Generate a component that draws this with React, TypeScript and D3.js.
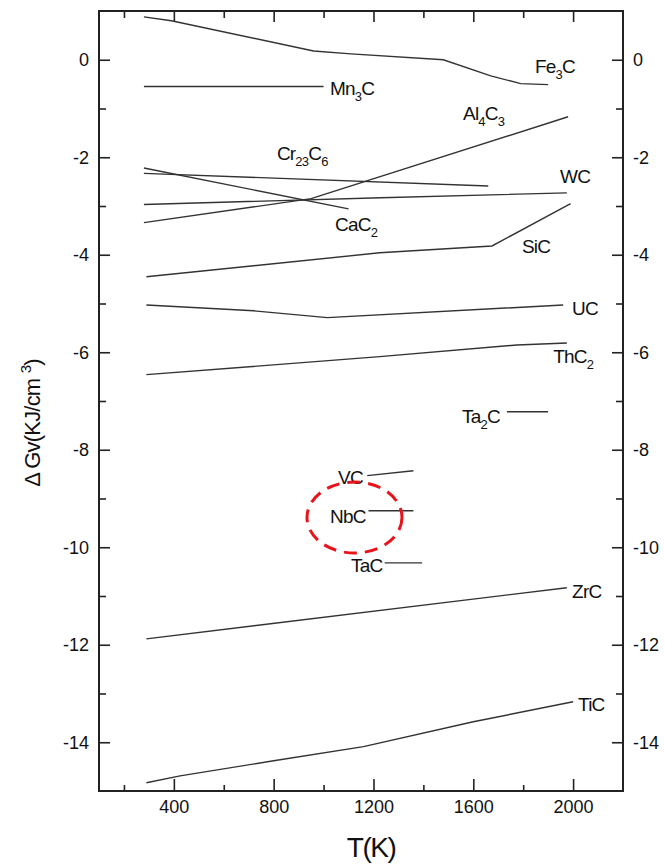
import React, { useEffect, useRef } from "react";
import * as d3 from "d3";

// temperatures (K) and dGv (kJ/cm3)
const fe3c: [number, number][] = [[280, 0.88], [390, 0.8], [960, 0.18], [1110, 0.12], [1480, 0.0], [1670, -0.33], [1790, -0.49], [1900, -0.51]];
const mn3c: [number, number][] = [[280, -0.55], [1000, -0.55]];
const al4c3: [number, number][] = [[280, -3.34], [950, -2.85], [1980, -1.17]];
const cr23c6: [number, number][] = [[280, -2.33], [1660, -2.59]];
const cac2: [number, number][] = [[280, -2.22], [1100, -3.06]];
const wc: [number, number][] = [[280, -2.97], [1230, -2.83], [1975, -2.73]];
const sic: [number, number][] = [[290, -4.45], [1225, -3.96], [1675, -3.82], [1990, -2.95]];
const uc: [number, number][] = [[290, -5.03], [720, -5.15], [1015, -5.29], [1960, -5.03]];
const thc2: [number, number][] = [[290, -6.46], [1225, -6.09], [1775, -5.85], [1975, -5.81]];
const ta2c: [number, number][] = [[1735, -7.22], [1900, -7.22]];
const vc: [number, number][] = [[1175, -8.53], [1360, -8.43]];
const nbc: [number, number][] = [[1180, -9.25], [1360, -9.25]];
const tac: [number, number][] = [[1245, -10.32], [1395, -10.32]];
const zrc: [number, number][] = [[290, -11.88], [1975, -10.83]];
const tic: [number, number][] = [[290, -14.83], [425, -14.69], [800, -14.38], [1160, -14.09], [1600, -13.58], [2000, -13.17]];

const series = [fe3c, mn3c, al4c3, cr23c6, cac2, wc, sic, uc, thc2, ta2c, vc, nbc, tac, zrc, tic];

// compound names, "_n" = subscript, anchored at (T, dGv) of the label's left baseline
const labelNames = ["Fe_3C", "Mn_3C", "Al_4C_3", "Cr_23C_6", "CaC_2", "WC", "SiC", "UC", "ThC_2", "Ta_2C", "VC", "NbC", "TaC", "ZrC", "TiC"];
const labelT = [1847, 1026, 1559, 813, 1046, 1948, 1795, 1996, 1920, 1555, 1058, 1026, 1110, 1996, 2020];
const labelV = [-0.27, -0.72, -1.23, -2.05, -3.51, -2.52, -3.96, -5.23, -6.22, -7.45, -8.7, -9.5, -10.5, -11.04, -13.35];

const xMajor = [400, 800, 1200, 1600, 2000];
const xMinor = [200, 600, 1000, 1400, 1800];
const yMajor = [0, -2, -4, -6, -8, -10, -12, -14];
const yMinor = [-1, -3, -5, -7, -9, -11, -13];

const W = 665, H = 865;
const margin = { top: 11, right: 42, bottom: 74, left: 99 };
const FONT = "'Liberation Sans', Arial, sans-serif";

function parseName(name: string) {
  const parts: { text: string; sub: boolean }[] = [];
  const re = /_(\d+)/g;
  let last = 0, m;
  while ((m = re.exec(name)) !== null) {
    if (m.index > last) parts.push({ text: name.slice(last, m.index), sub: false });
    parts.push({ text: m[1], sub: true });
    last = m.index + m[0].length;
  }
  if (last < name.length) parts.push({ text: name.slice(last), sub: false });
  return parts;
}

export default function App() {
  const ref = useRef<SVGSVGElement>(null);

  useEffect(() => {
    const svg = d3.select(ref.current);
    svg.selectAll("*").remove();

    const x = d3.scaleLinear().domain([100, 2200]).range([margin.left, W - margin.right]);
    const y = d3.scaleLinear().domain([-15, 1]).range([H - margin.bottom, margin.top]);
    const [x0, x1] = x.range();
    const [y0, y1] = y.range();

    const drawTicks = (axis: any, transform: string, size: number, labels: boolean) => {
      const g = svg.append("g").attr("transform", transform).call(axis.tickSize(-size).tickSizeOuter(0));
      g.select(".domain").remove();
      g.selectAll("line").attr("stroke", "#222").attr("stroke-width", 1.6);
      g.selectAll("text").attr("font-family", FONT).attr("font-size", 18).attr("fill", "#111");
      if (!labels) g.selectAll("text").remove();
      return g;
    };

    // bottom / top
    drawTicks(d3.axisBottom(x).tickValues(xMajor).tickPadding(9).tickFormat(d3.format("d")), `translate(0,${y0})`, 12, true);
    drawTicks(d3.axisBottom(x).tickValues(xMinor), `translate(0,${y0})`, 6, false);
    drawTicks(d3.axisTop(x).tickValues(xMajor), `translate(0,${y1})`, 11, false);
    drawTicks(d3.axisTop(x).tickValues(xMinor), `translate(0,${y1})`, 7, false);
    // left / right
    drawTicks(d3.axisLeft(y).tickValues(yMajor).tickPadding(10).tickFormat(d3.format("d")), `translate(${x0},0)`, 11, true);
    drawTicks(d3.axisLeft(y).tickValues(yMinor), `translate(${x0},0)`, 7, false);
    drawTicks(d3.axisRight(y).tickValues(yMajor).tickPadding(10).tickFormat(d3.format("d")), `translate(${x1},0)`, 11, true);
    drawTicks(d3.axisRight(y).tickValues(yMinor), `translate(${x1},0)`, 7, false);

    svg.selectAll("g text").text(function () { return (d3.select(this).text() || "").replace("−", "-"); });

    svg.append("rect").attr("x", x0).attr("y", y1).attr("width", x1 - x0).attr("height", y0 - y1)
      .attr("fill", "none").attr("stroke", "#222").attr("stroke-width", 2);

    const line = d3.line<[number, number]>().x(d => x(d[0])).y(d => y(d[1]));
    svg.append("g").selectAll("path").data(series).join("path")
      .attr("d", d => line(d)).attr("fill", "none").attr("stroke", "#333").attr("stroke-width", 1.4);

    // compound labels
    const lg = svg.append("g").attr("font-family", FONT).attr("font-size", 19).attr("fill", "#111").attr("letter-spacing", -0.8);
    labelNames.forEach((name, i) => {
      const t = lg.append("text").attr("x", x(labelT[i])).attr("y", y(labelV[i]));
      let prevSub = false;
      parseName(name).forEach(p => {
        const ts = t.append("tspan").text(p.text);
        if (p.sub) ts.attr("dy", 6).attr("font-size", 13);
        else if (prevSub) ts.attr("dy", -6);
        prevSub = p.sub;
      });
    });

    // red dashed highlight around NbC
    svg.append("ellipse").attr("cx", 354.5).attr("cy", 517.5).attr("rx", 47.5).attr("ry", 35.5)
      .attr("fill", "none").attr("stroke", "#e8141c").attr("stroke-width", 3).attr("stroke-dasharray", "13 8");

    // axis titles
    svg.append("text").attr("x", (x0 + x1) / 2 + 10).attr("y", 857).attr("text-anchor", "middle")
      .attr("font-family", FONT).attr("font-size", 28).attr("letter-spacing", -1.5).attr("fill", "#111").text("T(K)");

    const yl = svg.append("text").attr("transform", "translate(40,423) rotate(-90)").attr("text-anchor", "middle")
      .attr("font-family", FONT).attr("font-size", 22).attr("letter-spacing", -0.8).attr("fill", "#111");
    yl.append("tspan").text("Δ Gv(KJ/cm ");
    yl.append("tspan").text("3").attr("dy", -9).attr("font-size", 15);
    yl.append("tspan").text(")").attr("dy", 9);
  }, []);

  return (
    <svg ref={ref} width={W} height={H} style={{ position: "absolute", left: 0, top: 0, background: "#fff" }} />
  );
}
